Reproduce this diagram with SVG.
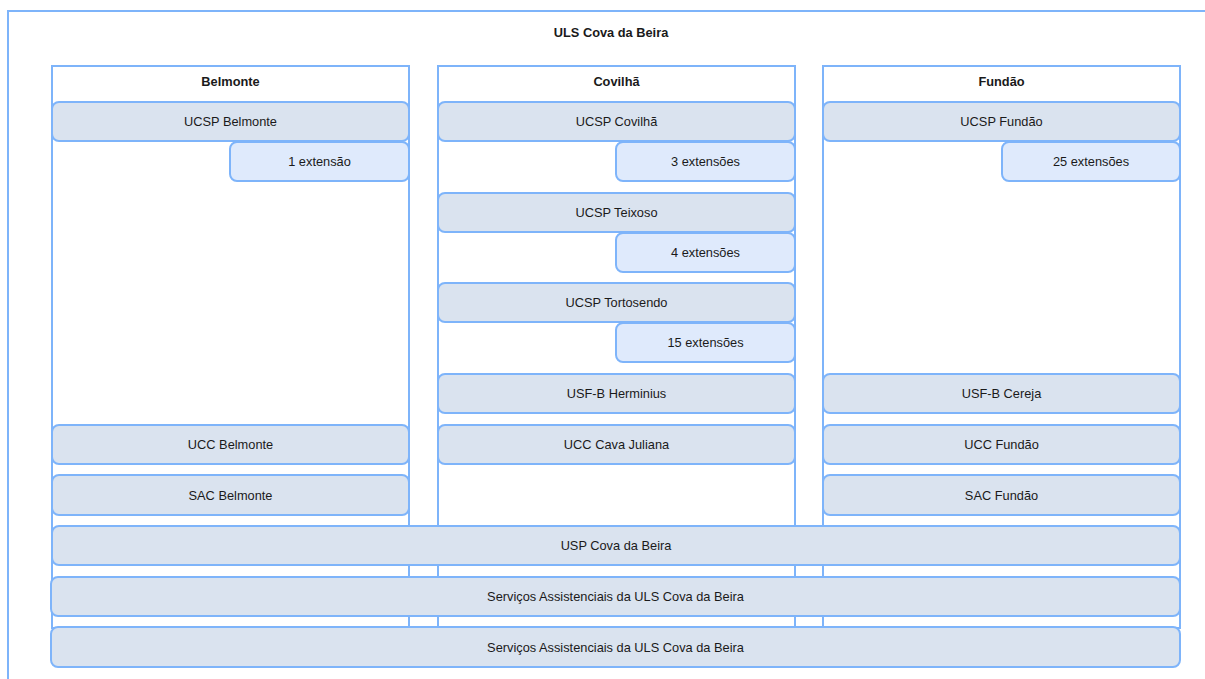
<svg xmlns="http://www.w3.org/2000/svg" width="1205" height="679" viewBox="0 0 1205 679">
<style>
text{font-family:"Liberation Sans",Arial,sans-serif;font-size:12.8px;fill:#1a1a1a;text-anchor:middle;dominant-baseline:central}
.b{font-weight:bold}
.frame{fill:#ffffff;stroke:#7eb4fa;stroke-width:2}
.unit{fill:#dae3ef;stroke:#7eb4fa;stroke-width:2}
.ext{fill:#dfeafc;stroke:#7eb4fa;stroke-width:2}
</style>
<rect width="1205" height="679" fill="#ffffff"/>
<g id="uls">
<rect class="frame" x="8" y="11" width="1210" height="680"/>
<text class="b" x="611" y="32">ULS Cova da Beira</text>
</g>
<g id="col-belmonte">
<rect class="frame" x="52" y="66" width="357" height="562"/>
<text class="b" x="230.5" y="81">Belmonte</text>
</g>
<g id="col-covilha">
<rect class="frame" x="438" y="66" width="357" height="562"/>
<text class="b" x="616.5" y="81">Covilhã</text>
</g>
<g id="col-fundao">
<rect class="frame" x="823" y="66" width="357" height="562"/>
<text class="b" x="1001.5" y="81">Fundão</text>
</g>
<g id="connectors"></g>
<g id="ucsp-belmonte"><rect class="unit" x="52" y="102" width="357" height="39" rx="7"/><text x="230.5" y="121.5">UCSP Belmonte</text></g>
<g id="ext-belmonte"><rect class="ext" x="230" y="142" width="179" height="39" rx="7"/><text x="319.5" y="161.5">1 extensão</text></g>
<g id="ucc-belmonte"><rect class="unit" x="52" y="425" width="357" height="39" rx="7"/><text x="230.5" y="444.5">UCC Belmonte</text></g>
<g id="sac-belmonte"><rect class="unit" x="52" y="475" width="357" height="40" rx="7"/><text x="230.5" y="495">SAC Belmonte</text></g>

<g id="ucsp-covilha"><rect class="unit" x="438" y="102" width="357" height="39" rx="7"/><text x="616.5" y="121.5">UCSP Covilhã</text></g>
<g id="ext-covilha"><rect class="ext" x="616" y="142" width="179" height="39" rx="7"/><text x="705.5" y="161.5">3 extensões</text></g>
<g id="ucsp-teixoso"><rect class="unit" x="438" y="193" width="357" height="39" rx="7"/><text x="616.5" y="212.5">UCSP Teixoso</text></g>
<g id="ext-teixoso"><rect class="ext" x="616" y="233" width="179" height="39" rx="7"/><text x="705.5" y="252.5">4 extensões</text></g>
<g id="ucsp-tortosendo"><rect class="unit" x="438" y="283" width="357" height="39" rx="7"/><text x="616.5" y="302.5">UCSP Tortosendo</text></g>
<g id="ext-tortosendo"><rect class="ext" x="616" y="323" width="179" height="39" rx="7"/><text x="705.5" y="342.5">15 extensões</text></g>
<g id="usf-herminius"><rect class="unit" x="438" y="374" width="357" height="39" rx="7"/><text x="616.5" y="393.5">USF-B Herminius</text></g>
<g id="ucc-cava"><rect class="unit" x="438" y="425" width="357" height="39" rx="7"/><text x="616.5" y="444.5">UCC Cava Juliana</text></g>

<g id="ucsp-fundao"><rect class="unit" x="823" y="102" width="357" height="39" rx="7"/><text x="1001.5" y="121.5">UCSP Fundão</text></g>
<g id="ext-fundao"><rect class="ext" x="1002" y="142" width="178" height="39" rx="7"/><text x="1091" y="161.5">25 extensões</text></g>
<g id="usf-cereja"><rect class="unit" x="823" y="374" width="357" height="39" rx="7"/><text x="1001.5" y="393.5">USF-B Cereja</text></g>
<g id="ucc-fundao"><rect class="unit" x="823" y="425" width="357" height="39" rx="7"/><text x="1001.5" y="444.5">UCC Fundão</text></g>
<g id="sac-fundao"><rect class="unit" x="823" y="475" width="357" height="40" rx="7"/><text x="1001.5" y="495">SAC Fundão</text></g>

<g id="usp"><rect class="unit" x="52" y="526" width="1128" height="39" rx="7"/><text x="616" y="545.5">USP Cova da Beira</text></g>
<g id="servicos-1"><rect class="unit" x="51" y="577" width="1129" height="39" rx="7"/><text x="615.5" y="596.5">Serviços Assistenciais da ULS Cova da Beira</text></g>
<g id="servicos-2"><rect class="unit" x="51" y="627" width="1129" height="40" rx="7"/><text x="615.5" y="647">Serviços Assistenciais da ULS Cova da Beira</text></g>
</svg>
